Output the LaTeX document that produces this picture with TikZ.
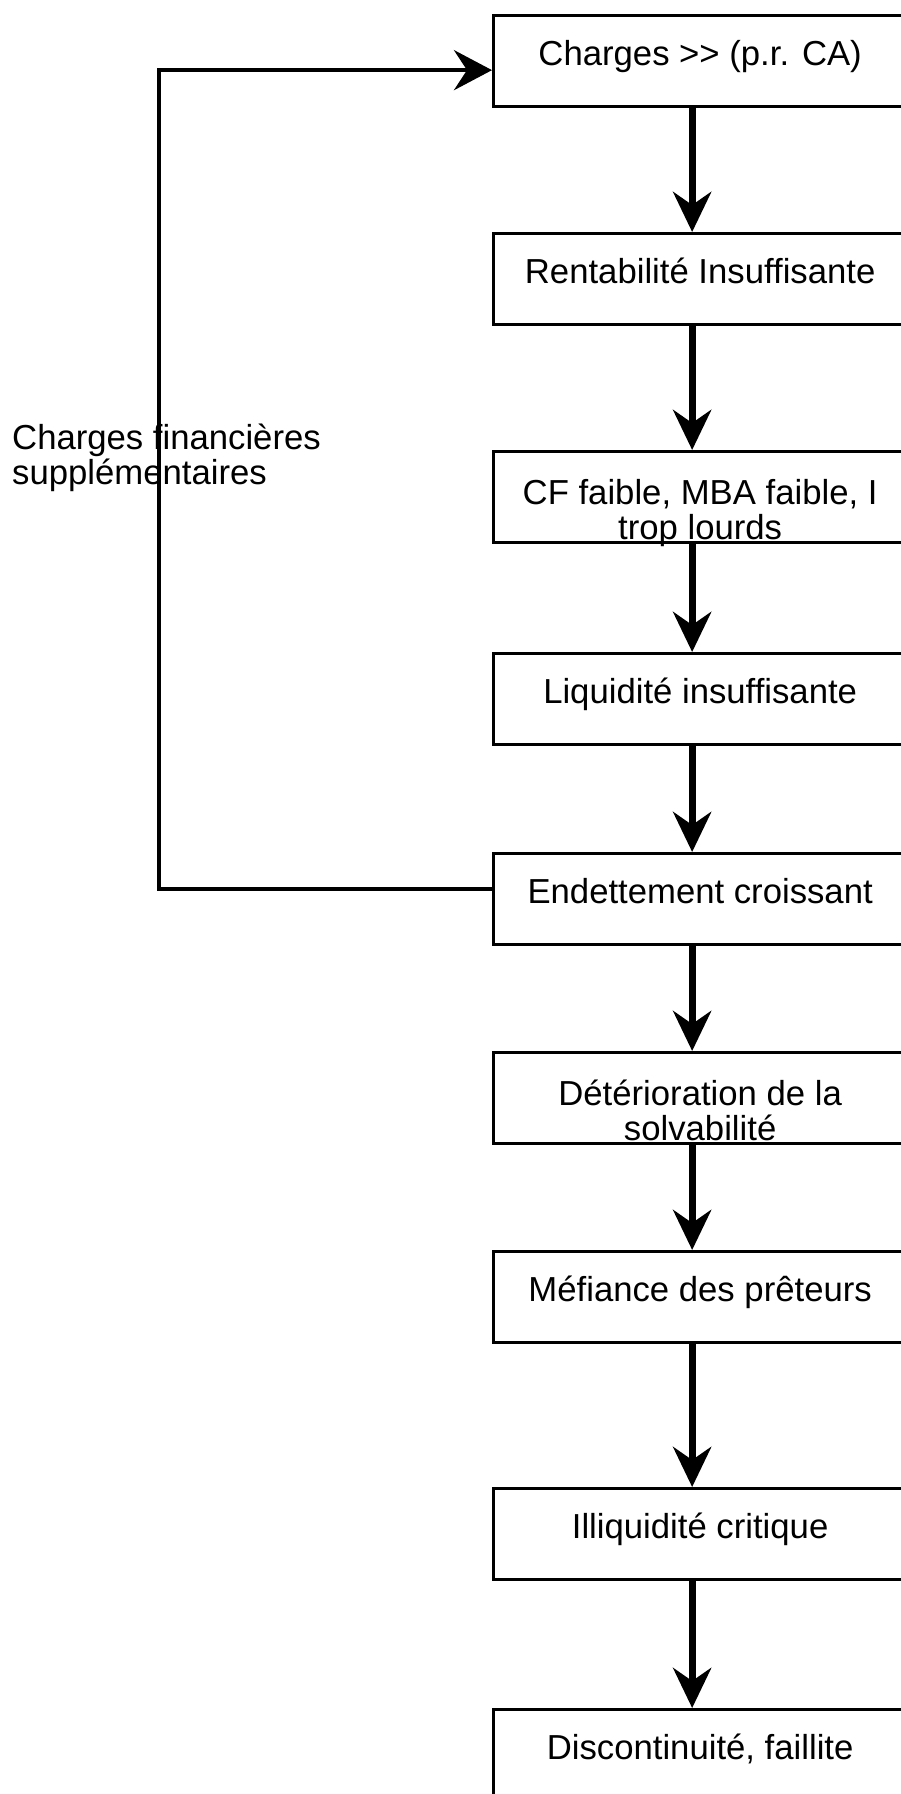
\documentclass[tikz,border=0pt]{standalone}
\usepackage{fontspec}
\setmainfont{Liberation Sans}
\usetikzlibrary{arrows.meta,positioning}
\begin{document}
\begin{tikzpicture}[
		x=1pt, y=-1pt,
		font=\fontsize{34.7}{35}\selectfont,
		box/.style={draw, line width=3.3pt, minimum width=413pt, minimum height=91pt,
				anchor=north west, inner sep=0pt},
		txt/.style={align=center, anchor=base, inner sep=0pt},
		flow/.style={line width=7pt, -{Stealth[length=40pt, width=38pt, inset=13pt]}},
		back/.style={line width=4.5pt, -{Stealth[length=38pt, width=40pt, inset=13pt]}},
	]
	\clip (0,0) rectangle (901,1794);
	\foreach \n/\y in {1/14,2/232,3/450,4/652,5/852,6/1051,7/1250,8/1487,9/1708} {
			\node[box] (b\n) at (492,\y) {};
		}
	\node[txt] (t1) at ([yshift=-51pt]b1.north) {Charges >\kern0pt> (p.r. CA)};
	\node[txt] (t2) at ([yshift=-51pt]b2.north) {Rentabilité Insuffisante};
	\node[txt] (t3) at ([yshift=-89pt]b3.north) {CF faible, MBA faible, I\\trop lourds};
	\node[txt] (t4) at ([yshift=-51pt]b4.north) {Liquidité insuffisante};
	\node[txt] (t5) at ([yshift=-51pt]b5.north) {Endettement croissant};
	\node[txt] (t6) at ([yshift=-89pt]b6.north) {Détérioration de la\\solvabilité};
	\node[txt] (t7) at ([yshift=-51pt]b7.north) {Méfiance des prêteurs};
	\node[txt] (t8) at ([yshift=-51pt]b8.north) {Illiquidité critique};
	\node[txt] (t9) at ([yshift=-51pt]b9.north) {Discontinuité, faillite};
	% boucle des charges financieres
	\node[align=left, anchor=base west, inner sep=0pt] (fin) at (12,484)
	{Charges financières\\supplémentaires};
	\foreach \a/\b in {1/2,2/3,3/4,4/5,5/6,6/7,7/8,8/9} {
			\draw[flow] ([xshift=-8pt]b\a.south) -- ([xshift=-8pt]b\b.north);
		}
	\draw[back] ([yshift=10pt]b5.west) -- ++(-333,0) |- ([yshift=-9pt]b1.west);
\end{tikzpicture}
\end{document}
